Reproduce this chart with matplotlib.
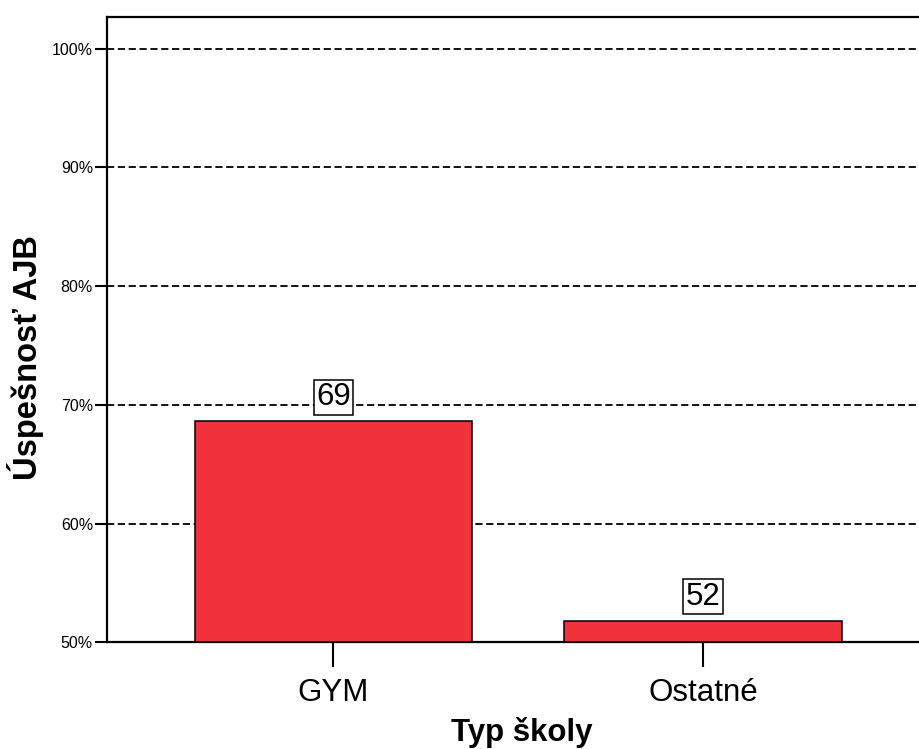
import matplotlib
matplotlib.use("Agg")
import matplotlib.pyplot as plt
from matplotlib.ticker import FuncFormatter

plt.rcParams['font.family'] = ['Liberation Sans', 'DejaVu Sans']

categories = ["GYM", "Ostatné"]
values = [68.6, 51.8]
bar_labels = ["69", "52"]
yticks = [50, 60, 70, 80, 90, 100]

fig = plt.figure(figsize=(9.19, 7.49), dpi=100)
ax = fig.add_axes([0.1164, 0.1425, 0.895, 0.8353])

x = list(range(len(categories)))
bars = ax.bar(x, [v - 50 for v in values], bottom=50, width=0.75,
              color='#F0323C', edgecolor='black', linewidth=1.1, zorder=3)

for xi, v, lab in zip(x, values, bar_labels):
    ax.annotate(lab, (xi, v), xytext=(0, 6.5), textcoords='offset points',
                ha='center', va='bottom', fontsize=22.5, color='black',
                bbox=dict(boxstyle='square,pad=0.08', fc='white', ec='black', lw=1.1),
                zorder=5)

ax.set_xlim(-0.613, 1.613)
ax.set_ylim(50, 102.7)
ax.set_yticks(yticks)
ax.yaxis.set_major_formatter(FuncFormatter(lambda v, p: f"{int(v)}%"))
ax.set_xticks(x)
ax.set_xticklabels(categories, fontsize=22.5)

ax.yaxis.grid(True, linestyle=(0, (4, 2)), color='black', linewidth=1.3)
ax.set_axisbelow(True)

for s in ['left', 'bottom', 'top']:
    ax.spines[s].set_linewidth(1.6)
ax.spines['right'].set_visible(False)

ax.tick_params(axis='y', direction='out', length=8.6, width=1.5, labelsize=11.5, pad=1.5)
ax.tick_params(axis='x', direction='out', length=18, width=1.5, pad=7.5)

ax.set_xlabel("Typ školy", fontsize=22.5, fontweight='bold')
ax.xaxis.label.set_va('baseline')
ax.xaxis.set_label_coords(0.504, -0.1573)
ax.set_ylabel("Úspešnosť AJB", fontsize=23.5, fontweight='bold')
ax.yaxis.label.set_va('baseline')
ax.yaxis.set_label_coords(-0.0851, 0.455)

fig.savefig("out.png", dpi=100)
